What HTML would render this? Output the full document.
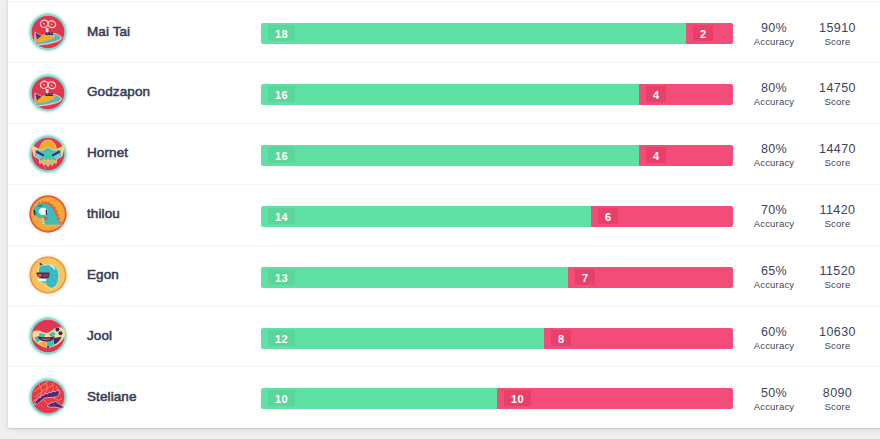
<!DOCTYPE html>
<html><head><meta charset="utf-8">
<style>
html,body{margin:0;padding:0;}
body{width:880px;height:439px;overflow:hidden;background:#efefef;position:relative;
  font-family:"Liberation Sans",sans-serif;}
.card{position:absolute;left:8px;top:-4px;width:880px;height:432px;background:#fff;border-radius:2px;
  box-shadow:0 1px 2px rgba(0,0,0,0.14), 0 2px 6px rgba(0,0,0,0.06);}
.row{position:absolute;left:0;width:880px;height:61px;}
.row::before{content:"";position:absolute;left:8px;right:0;top:0;height:1px;background:#f4f4f4;}
.row:first-child::before{background:#f4f4f4;}
.av{position:absolute;left:25.5px;top:8.8px;}
.name{position:absolute;left:87px;top:23.5px;font-size:13.5px;font-weight:normal;-webkit-text-stroke:0.55px #3b3b57;letter-spacing:0.1px;color:#3b3b57;line-height:14px;}
.bar{position:absolute;left:261px;top:22px;width:472px;height:21px;border-radius:2px;overflow:hidden;}
.g{position:absolute;left:0;top:0;height:21px;background:#5fe0a4;}
.r{position:absolute;right:0;top:0;height:21px;background:#f24d78;}
.r .lbl{background:rgba(190,0,40,0.17);}
.lbl{position:absolute;left:7px;top:2px;height:16px;line-height:18px;padding:0 6.5px 0 7px;background:rgba(0,0,0,0.045);
  color:#fff;font-weight:bold;font-size:11px;letter-spacing:0.5px;}
.stat{position:absolute;top:19.5px;text-align:center;color:#42425c;}
.stat .v{font-size:12.5px;line-height:14px;letter-spacing:0.4px;}
.stat .k{font-size:9.5px;line-height:12px;margin-top:1px;letter-spacing:0.2px;}
.acc{left:744px;width:60px;}
.sc{left:807.5px;width:60px;}
</style></head><body>
<svg width="0" height="0" style="position:absolute"><filter id="gl" x="-20%" y="-20%" width="140%" height="140%"><feGaussianBlur stdDeviation="1.2"/></filter></svg>
<div class="card"></div>

<div class="row" style="top:1.0px">
  <svg class="av" width="44" height="44" viewBox="-2 -2 44 44"><circle cx="20" cy="20" r="19.6" fill="#c6eeea" filter="url(#gl)"/><circle cx="20" cy="20" r="18.5" fill="#8ad8d2"/>
<circle cx="20" cy="20" r="16.3" fill="#e0364f"/>
<g fill="none" stroke="#ffcfc6" stroke-width="1.3">
<ellipse cx="16.3" cy="11.8" rx="3.9" ry="3.6" transform="rotate(-20 16.3 11.8)"/><ellipse cx="23.8" cy="12.2" rx="3.9" ry="3.3" transform="rotate(20 23.8 12.2)"/>
</g>
<path d="M15 11 l2 1.5 M22.5 11.8 l2 1" stroke="#ffcfc6" stroke-width="0.9"/>
<path d="M17.8 16 L20.5 16 L20.5 21 L17.8 21 Z" fill="#f7d8d0"/>
<path d="M6.6 19.6 L13.5 23 Q20 21.5 27 21 Q31.5 22 34.5 25.5 Q33.2 28.7 30 29.7 Q20 33.2 7.2 33.8 Q5.8 28 6.6 19.6 Z" fill="#f0c0cc"/>
<path d="M7.6 21.5 L13.5 24 Q20 22.5 27 22 Q31 23 33 25.6 Q32 27.8 29.5 28.6 Q20 31.8 8.2 32.6 Q7 28 7.6 21.5 Z" fill="#4cbfbd"/>
<path d="M8.2 23.5 Q18 22.5 27.5 23 Q27 26.5 18 29 Q12 30.5 8.3 30.5 Z" fill="#f5a82a"/>
<path d="M7.4 20.5 L13.5 23.8 L9 27.5 Z" fill="#5a2d6e"/>
<path d="M17.7 20.3 L24.7 20.3 L25 23 L17.3 23 Z" fill="#3b2a5a"/>
<path d="M19 20.3 L20 22 M22.5 20.3 L23.3 22" stroke="#f0a0b0" stroke-width="0.6"/>
</svg>
  <div class="name">Mai Tai</div>
  <div class="bar">
    <div class="g" style="width:425px"><span class="lbl">18</span></div>
    <div class="r" style="left:425px"><span class="lbl">2</span></div>
  </div>
  <div class="stat acc"><div class="v">90%</div><div class="k">Accuracy</div></div>
  <div class="stat sc"><div class="v">15910</div><div class="k">Score</div></div>
</div>
<div class="row" style="top:61.9px">
  <svg class="av" width="44" height="44" viewBox="-2 -2 44 44"><circle cx="20" cy="20" r="19.6" fill="#c6eeea" filter="url(#gl)"/><circle cx="20" cy="20" r="18.5" fill="#8ad8d2"/>
<circle cx="20" cy="20" r="16.3" fill="#e0364f"/>
<g fill="none" stroke="#ffcfc6" stroke-width="1.3">
<ellipse cx="16.3" cy="11.8" rx="3.9" ry="3.6" transform="rotate(-20 16.3 11.8)"/><ellipse cx="23.8" cy="12.2" rx="3.9" ry="3.3" transform="rotate(20 23.8 12.2)"/>
</g>
<path d="M15 11 l2 1.5 M22.5 11.8 l2 1" stroke="#ffcfc6" stroke-width="0.9"/>
<path d="M17.8 16 L20.5 16 L20.5 21 L17.8 21 Z" fill="#f7d8d0"/>
<path d="M6.6 19.6 L13.5 23 Q20 21.5 27 21 Q31.5 22 34.5 25.5 Q33.2 28.7 30 29.7 Q20 33.2 7.2 33.8 Q5.8 28 6.6 19.6 Z" fill="#f0c0cc"/>
<path d="M7.6 21.5 L13.5 24 Q20 22.5 27 22 Q31 23 33 25.6 Q32 27.8 29.5 28.6 Q20 31.8 8.2 32.6 Q7 28 7.6 21.5 Z" fill="#4cbfbd"/>
<path d="M8.2 23.5 Q18 22.5 27.5 23 Q27 26.5 18 29 Q12 30.5 8.3 30.5 Z" fill="#f5a82a"/>
<path d="M7.4 20.5 L13.5 23.8 L9 27.5 Z" fill="#5a2d6e"/>
<path d="M17.7 20.3 L24.7 20.3 L25 23 L17.3 23 Z" fill="#3b2a5a"/>
<path d="M19 20.3 L20 22 M22.5 20.3 L23.3 22" stroke="#f0a0b0" stroke-width="0.6"/>
</svg>
  <div class="name">Godzapon</div>
  <div class="bar">
    <div class="g" style="width:378px"><span class="lbl">16</span></div>
    <div class="r" style="left:378px"><span class="lbl">4</span></div>
  </div>
  <div class="stat acc"><div class="v">80%</div><div class="k">Accuracy</div></div>
  <div class="stat sc"><div class="v">14750</div><div class="k">Score</div></div>
</div>
<div class="row" style="top:122.8px">
  <svg class="av" width="44" height="44" viewBox="-2 -2 44 44"><circle cx="20" cy="20" r="19.6" fill="#c6eeea" filter="url(#gl)"/><circle cx="20" cy="20" r="18.5" fill="#8ad8d2"/>
<circle cx="20" cy="20" r="16.3" fill="#e0364f"/>
<path d="M2.8 10.5 L13 16 L13 25 L5.5 22 Z" fill="#f7d68a"/>
<path d="M37.2 10.5 L27 16 L27 25 L34.5 22 Z" fill="#f7d68a"/>
<path d="M11.5 16 Q12.5 6.5 20 6 Q27.5 6.5 28.5 16 L28.5 19 L11.5 19 Z" fill="#f5a62e" stroke="#f7d68a" stroke-width="0.9"/>
<path d="M7 15 L14 16.5 L20 13 L26 16.5 L33 15 L33.5 22.5 L28.5 25 L28.2 29.5 L25.8 28 L24.2 31.5 L22 29.5 L20 32.5 L18 29.5 L15.8 31.5 L14.2 28 L11.8 29.5 L11.5 25 L6.5 22.5 Z" fill="#48c3b0" stroke="#f7d68a" stroke-width="0.9"/>
<path d="M12.5 26 L27.5 26 L28.2 29.5 L25.8 28 L24.2 31.5 L22 29.5 L20 32.5 L18 29.5 L15.8 31.5 L14.2 28 L11.8 29.5 Z" fill="#f0b868" opacity="0.75"/>
<path d="M8.5 16.2 L16.5 21 L15 22.5 L8 18.8 Z" fill="#263a78"/>
<path d="M31.5 16.2 L23.5 21 L25 22.5 L32 18.8 Z" fill="#263a78"/>
<path d="M8.5 19.3 L15 22.8 L11 24.2 L8 22 Z" fill="#8fc0ea"/>
<path d="M31.5 19.3 L25 22.8 L29 24.2 L32 22 Z" fill="#8fc0ea"/>
<path d="M16 24 L17 27 M20 24 L20 28 M24 24 L23 27" stroke="#f7d68a" stroke-width="0.6"/>
<circle cx="17" cy="34" r="0.8" fill="#f7a070"/>
</svg>
  <div class="name">Hornet</div>
  <div class="bar">
    <div class="g" style="width:378px"><span class="lbl">16</span></div>
    <div class="r" style="left:378px"><span class="lbl">4</span></div>
  </div>
  <div class="stat acc"><div class="v">80%</div><div class="k">Accuracy</div></div>
  <div class="stat sc"><div class="v">14470</div><div class="k">Score</div></div>
</div>
<div class="row" style="top:183.7px">
  <svg class="av" width="44" height="44" viewBox="-2 -2 44 44"><circle cx="20" cy="20" r="19.6" fill="#fbe0e0" filter="url(#gl)"/><circle cx="20" cy="20" r="18.5" fill="#e4603a"/>
<circle cx="20" cy="20" r="17.6" fill="#f6a632" stroke="#e4603a" stroke-width="1.8"/>
<path d="M10 11 L11 7.5 L13 9.5 L14.5 6.5 L16 9 L18 6.5 L19.5 9 L21.5 7.5 L22.5 10.5 L25 10 L25 12.5 L28 13 L27 15.5 L30 16.5 L28.5 19 L31.5 20.5 L29.5 22.5 L32.5 24.5 L30.5 26.5 L34 28.5 L31 30.5 Z" fill="#e4603a"/>
<path d="M5 17 Q5 10 14 9.5 Q23 9.5 26 17 Q29 24 32.5 30.8 L15 30.8 Q13.5 27.5 15.5 25.5 Q11 24.5 9 22.5 Q5 21.5 5 17 Z" fill="#3dbdb5"/>
<path d="M15 30.8 L37 30.8 L36 31.8 L15 31.8 Z" fill="#c6b0e0"/>
<path d="M10.5 17.5 Q11.5 13.5 15.5 13.8 Q19.8 14.5 19.5 18.5 Q19 21.2 15.5 21 Q11 20.8 10.5 17.5 Z" fill="#ffffff"/>
<path d="M6.3 16.5 L7 20.5" stroke="#2a3070" stroke-width="1.5" stroke-linecap="round"/>
<path d="M18.3 16.3 L18.5 20.3" stroke="#2a3070" stroke-width="1.5" stroke-linecap="round"/>
<path d="M10 12.2 L14.5 11.6" stroke="#2a3070" stroke-width="0.8"/>
<path d="M15 22.5 L19.5 23 L19.5 26.5 L16 25.5 Z" fill="#e4603a"/>
<path d="M13.5 24 L16 25 L14 26.5 L16.5 27.5 L14.5 29 L17 30" fill="none" stroke="#f7e07a" stroke-width="1"/>
</svg>
  <div class="name">thilou</div>
  <div class="bar">
    <div class="g" style="width:330px"><span class="lbl">14</span></div>
    <div class="r" style="left:330px"><span class="lbl">6</span></div>
  </div>
  <div class="stat acc"><div class="v">70%</div><div class="k">Accuracy</div></div>
  <div class="stat sc"><div class="v">11420</div><div class="k">Score</div></div>
</div>
<div class="row" style="top:244.6px">
  <svg class="av" width="44" height="44" viewBox="-2 -2 44 44"><circle cx="20" cy="20" r="19.6" fill="#fde8d8" filter="url(#gl)"/><circle cx="20" cy="20" r="18.5" fill="#ea9a44"/>
<circle cx="20" cy="20" r="17.6" fill="#f8c35e" stroke="#ea9a44" stroke-width="1.4"/>
<path d="M8.5 3.5 L15.5 10.5" stroke="#f9d9a8" stroke-width="0.8"/>
<path d="M11.5 7 L16.8 11 L12.2 12.8 Z" fill="#8a2e38"/>
<path d="M10.5 14 Q11 9.5 18 10 Q23 9 26.5 11 Q30.5 13.5 31 20 Q31.5 27 28 31 Q25 34 21 33.5 Q18 32 16 28.5 L12.5 27 Q9.5 23 10.5 14 Z" fill="#3ab8c0" stroke="#eef2b0" stroke-width="0.8"/>
<path d="M22 10.5 Q25.5 11.5 27 14.5" stroke="#ffffff" stroke-width="1.1" fill="none"/>
<path d="M26 22 l1 1 M28 26 l0.8 0.8 M24 28 l1 0.5" stroke="#9fe8e8" stroke-width="0.8"/>
<path d="M17 27 Q19 31 23 33 Q19 34 16 31 Z" fill="#f8d060"/>
<path d="M8.4 17.5 L21.5 17.5 L21 22.5 Q19 23.8 14 23.3 Q9 23 8.4 17.5 Z" fill="#4a2a4a"/>
<path d="M10 19 L13.8 19 L13.5 22 L10.3 21.6 Z" fill="#e85060"/>
<path d="M15 19 L20 19 L19.5 22.2 L15.2 22 Z" fill="#9a3060"/>
<path d="M9.5 23.8 L18.5 23.8 L18 26.3 L11 26.3 Z" fill="#f4f4f4"/>
</svg>
  <div class="name">Egon</div>
  <div class="bar">
    <div class="g" style="width:307px"><span class="lbl">13</span></div>
    <div class="r" style="left:307px"><span class="lbl">7</span></div>
  </div>
  <div class="stat acc"><div class="v">65%</div><div class="k">Accuracy</div></div>
  <div class="stat sc"><div class="v">11520</div><div class="k">Score</div></div>
</div>
<div class="row" style="top:305.5px">
  <svg class="av" width="44" height="44" viewBox="-2 -2 44 44"><circle cx="20" cy="20" r="19.6" fill="#c6eeea" filter="url(#gl)"/><circle cx="20" cy="20" r="18.5" fill="#8ad8d2"/>
<circle cx="20" cy="20" r="16.3" fill="#e0364f"/>
<path d="M4.3 17 Q5 14.5 8 14.5 L12 14.8 Q15.5 16.8 18.2 17 Q22 16.5 25.5 13 Q28 11 32 11.2 Q36.5 12 37.2 16.5 Q37.5 20 35.5 22.5 Q30 30.5 20 32 Q10 30.5 5 23 Q4 20 4.3 17 Z" fill="#f7dd9a"/>
<path d="M11.5 17 L17.5 18.2 L16 21 L11 20.5 Z" fill="#3dbdb5"/>
<path d="M21 18 L26 15.5 L27.5 19 L22.5 20.5 Z" fill="#3dbdb5"/>
<path d="M6.5 21 L10 20.5 L12.8 23 L9.5 27 Q7 24.5 6.5 21 Z" fill="#3dbdb5"/>
<path d="M11 26.5 L17.5 25.5 L18.5 31.3 Q13.5 30.5 11 27.5 Z" fill="#f5a62e"/>
<path d="M18.5 23.5 L25.5 23 L25.5 29.8 Q22 31.2 18.8 31.2 Z" fill="#3dbdb5"/>
<path d="M25.5 22 L33.5 20.8 Q32 26 26 28.8 Z" fill="#4a2a6a"/>
<path d="M9.5 20.3 Q18 22 26.8 20.3 Q25 25.5 18 25.5 Q11.5 25.5 9.5 20.3 Z" fill="#3a2858"/>
<path d="M12.5 22 Q18 23.3 23.5 22 Q21.5 24.3 18 24.3 Q14.5 24.3 12.5 22 Z" fill="#e85060"/>
<circle cx="29.4" cy="13.6" r="2" fill="#3a2858"/><circle cx="32.5" cy="17.2" r="2" fill="#3a2858"/>
<circle cx="20" cy="31" r="1" fill="#3a2858"/>
</svg>
  <div class="name">Jool</div>
  <div class="bar">
    <div class="g" style="width:283px"><span class="lbl">12</span></div>
    <div class="r" style="left:283px"><span class="lbl">8</span></div>
  </div>
  <div class="stat acc"><div class="v">60%</div><div class="k">Accuracy</div></div>
  <div class="stat sc"><div class="v">10630</div><div class="k">Score</div></div>
</div>
<div class="row" style="top:366.4px">
  <svg class="av" width="44" height="44" viewBox="-2 -2 44 44"><circle cx="20" cy="20" r="19.6" fill="#c6eeea" filter="url(#gl)"/><circle cx="20" cy="20" r="18.5" fill="#8ad8d2"/>
<circle cx="20" cy="20" r="16.3" fill="#e63a4c"/>
<g fill="none" stroke="#f98a52" stroke-width="0.9">
<path d="M6 15 L13 9.5 L20 4.5"/><path d="M7.5 20 L15 13.5 L24 8.5"/><path d="M11 6.5 L14 14.5 L11 22"/><path d="M18 4.5 L19.5 11.5 L16.5 17"/><path d="M24.5 6 L25.5 13 L23 15.5"/><path d="M5 24 L9.5 22"/><path d="M25 21 L30.5 23.5 L34 21.5"/><path d="M16 23 L20 27.5"/><path d="M28 9 L31 14"/>
</g>
<path d="M5.8 27.5 Q7.5 24 9.5 22 L10.5 20.3 L12.3 20.8 L13.5 18 L15.8 18.3 L17 16.3 L19.5 17 L21 15 L23.3 15.8 L25 14 L27.3 14.8 L29 13.3 L31.8 14.5 Q31.5 18.5 28.5 19.8 Q24 20.8 19.5 20.5 Q15.5 21 13 24 Q10 27.8 5.8 27.5 Z" fill="#4e2a72" stroke="#f7b8c8" stroke-width="0.8"/>
<path d="M19.5 29.5 L20.5 26.8 L22.3 27 L23.3 25 L25.5 25.8 L27 24.3 L29 25.5 Q32 27.5 36 30 Q34.5 32 31 31 Q27 29.5 22.5 30.2 Z" fill="#4e2a72" stroke="#f7b8c8" stroke-width="0.8"/>
</svg>
  <div class="name">Steliane</div>
  <div class="bar">
    <div class="g" style="width:236px"><span class="lbl">10</span></div>
    <div class="r" style="left:236px"><span class="lbl">10</span></div>
  </div>
  <div class="stat acc"><div class="v">50%</div><div class="k">Accuracy</div></div>
  <div class="stat sc"><div class="v">8090</div><div class="k">Score</div></div>
</div>
</body></html>
